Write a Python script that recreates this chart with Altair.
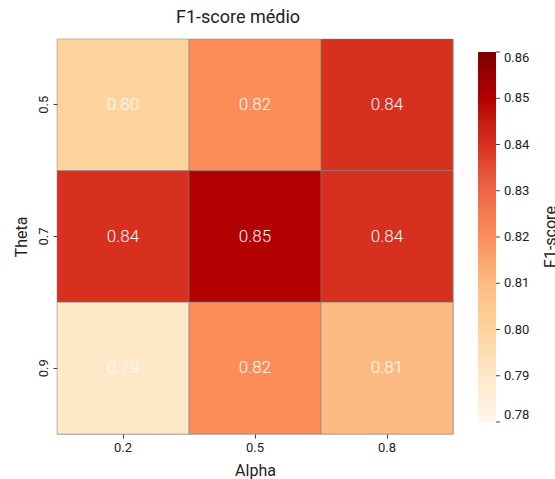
import altair as alt
import pandas as pd

# Grid-search results: mean F1-score for each (theta, alpha) pair
alphas = ["0.2", "0.5", "0.8"]
thetas = ["0.5", "0.7", "0.9"]
f1_rows = [
    [0.80, 0.82, 0.84],  # theta = 0.5
    [0.84, 0.85, 0.84],  # theta = 0.7
    [0.79, 0.82, 0.81],  # theta = 0.9
]

# Colour bar: OrRd stops spread evenly over 0.78 .. 0.86
color_stops = [0.78, 0.79, 0.80, 0.81, 0.82, 0.83, 0.84, 0.85, 0.86]
orrd = ["#fff7ec", "#fee8c8", "#fdd49e", "#fdbb84", "#fc8d59",
        "#ef6548", "#d7301f", "#b30000", "#7f0000"]

rows = []
for theta, vals in zip(thetas, f1_rows):
    for alpha, v in zip(alphas, vals):
        rows.append({"alpha": alpha, "theta": theta, "f1": v})
df = pd.DataFrame(rows)

FONT = "Roboto"

# Colour-bar geometry (relative to the heatmap's top-left corner)
CBAR_X, CBAR_Y, CBAR_W, CBAR_LEN = 421, 13, 18, 370

x_enc = alt.X("alpha:O", sort=alphas, title="Alpha",
              scale=alt.Scale(paddingInner=0, paddingOuter=0),
              axis=alt.Axis(labelAngle=0))
y_enc = alt.Y("theta:O", sort=thetas, title="Theta",
              scale=alt.Scale(paddingInner=0, paddingOuter=0),
              axis=alt.Axis(labelAngle=270, labelAlign="center",
                            labelBaseline="bottom"))

cells = alt.Chart(df).mark_rect(stroke="gray", strokeWidth=0.5).encode(
    x=x_enc,
    y=y_enc,
    color=alt.Color(
        "f1:Q",
        scale=alt.Scale(type="linear", domain=color_stops, range=orrd),
        legend=alt.Legend(
            title=None,
            orient="none",
            legendX=CBAR_X,
            legendY=CBAR_Y,
            direction="vertical",
            gradientLength=CBAR_LEN,
            gradientThickness=CBAR_W,
            gradientStrokeWidth=0,
            values=color_stops,
            format=".2f",
            labelFont=FONT,
            labelFontSize=13,
            labelColor="#222222",
            labelOffset=8,
        ),
    ),
)

labels = alt.Chart(df).mark_text(
    color="white", fontSize=17, font=FONT, fontWeight=300
).encode(
    x=x_enc,
    y=y_enc,
    text=alt.Text("f1:Q", format=".2f"),
)

heat = alt.layer(cells, labels)

# Small tick marks on the right edge of the colour bar
cbar_ticks = alt.Chart(pd.DataFrame({"v": color_stops})).mark_rule(
    color="#444444", strokeWidth=1
).encode(
    x=alt.value(CBAR_X + CBAR_W),
    x2=alt.value(CBAR_X + CBAR_W + 4),
    y=alt.Y("v:Q", axis=None,
            scale=alt.Scale(domain=[0.78, 0.86],
                            range=[CBAR_Y + CBAR_LEN, CBAR_Y])),
)

cbar_title = alt.Chart(pd.DataFrame({"t": ["F1-score"]})).mark_text(
    angle=270, fontSize=16, font=FONT, color="#222222", baseline="middle",
    align="center"
).encode(
    x=alt.value(494),
    y=alt.value(198),
    text="t:N",
)

chart = alt.layer(heat, cbar_ticks, cbar_title).resolve_scale(
    y="independent"
).properties(
    width=396,
    height=395,
    background="white",
    title=alt.TitleParams("F1-score médio", font=FONT, fontSize=18,
                          fontWeight="normal", color="#222222", offset=12,
                          dx=-17),
    autosize=alt.AutoSizeParams(type="none"),
    padding={"left": 57, "top": 39, "right": 102, "bottom": 45},
).configure_view(
    stroke="#c8c8c8", strokeWidth=1
).configure_axis(
    domain=False,
    labelFont=FONT,
    labelFontSize=13,
    labelColor="#222222",
    titleFont=FONT,
    titleFontSize=16,
    titleFontWeight="normal",
    titleColor="#222222",
    tickColor="#444444",
    tickSize=4,
    labelPadding=3,
    titlePadding=8,
)

chart.save("out.html", embed_options={"renderer": "svg", "actions": False})
